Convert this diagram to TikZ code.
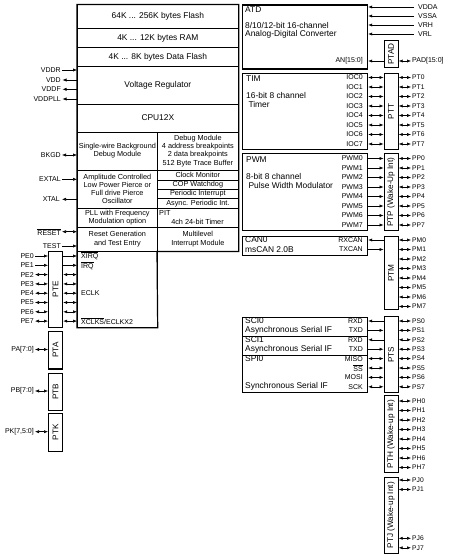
\documentclass[tikz,border=0pt]{standalone}
\usepackage{fontspec}
\setmainfont{Liberation Sans}
\usetikzlibrary{arrows.meta}
\newcommand\mainf{\fontsize{8.4}{9.3}\selectfont}
\newcommand\smallf{\fontsize{7.3}{8.2}\selectfont}
\newcommand\pinf{\fontsize{7}{8}\selectfont}
\newcommand\rpinf{\fontsize{6.7}{8}\selectfont}
\newcommand\portf{\fontsize{8.2}{9}\selectfont}
\newcommand\ovl[1]{$\overline{\mbox{#1}}$}
\newcommand\cellnode[7][]{%
  \pgfmathsetmacro\cw{#5-#3}\pgfmathsetmacro\ch{#6-#4}%
  \node[cell,minimum width=\cw pt,minimum height=\ch pt,anchor=north west,#1] (#2) at (#3,#4) {#7};}
\newcommand\boxnode[5]{%
  \pgfmathsetmacro\cw{#4-#2}\pgfmathsetmacro\ch{#5-#3}%
  \node[modbox,minimum width=\cw pt,minimum height=\ch pt,anchor=north west] (#1) at (#2,#3) {};}
\newcommand\portnode[6]{%
  \pgfmathsetmacro\cw{#4-#2}\pgfmathsetmacro\ch{#5-#3}%
  \node[modbox,minimum width=\cw pt,minimum height=\ch pt,anchor=north west] (#1) at (#2,#3) {};
  \node[rotate=90,font=\portf,inner sep=0pt] (#1t) at (#1.center) {#6};}
\begin{document}
\begin{tikzpicture}[x=1pt,y=-1pt,
  cell/.style={draw,line width=0.7pt,inner sep=0pt,align=center,font=\mainf},
  modbox/.style={draw,line width=1.2pt,inner sep=0pt},
  lbl/.style={inner sep=0pt,font=\pinf},
  rlbl/.style={inner sep=0pt,font=\rpinf},
  mtxt/.style={inner sep=0pt,font=\mainf,anchor=west},
  a/.style={line width=0.55pt,-{Latex[length=4pt,width=3.2pt]}},
  da/.style={line width=0.55pt,{Latex[length=4pt,width=3.2pt]}-{Latex[length=4pt,width=3.2pt]}}]
\useasboundingbox (0,0) rectangle (454,559);
% ---------------- main block ----------------
\cellnode{flash}{77}{4.5}{238}{28}{64K ... 256K bytes Flash}
\cellnode{ram}{77}{28}{238}{47}{4K ... 12K bytes RAM}
\cellnode{dflash}{77}{47}{238}{66}{4K ... 8K bytes Data Flash}
\cellnode{vreg}{77}{66}{238}{104}{Voltage Regulator}
\cellnode{cpu}{77}{104}{238}{131.5}{CPU12X}
\cellnode[font=\smallf]{bdm}{77}{131.5}{157}{169.5}{Single-wire Background\\Debug Module}
\cellnode[font=\smallf]{dbg}{157}{131.5}{238}{169.5}{Debug Module\\4 address breakpoints\\2 data breakpoints\\512 Byte Trace Buffer}
\cellnode[font=\smallf]{osc}{77}{169.5}{157}{207.5}{Amplitude Controlled\\Low Power Pierce or\\Full drive Pierce\\Oscillator}
\cellnode[font=\smallf]{clkmon}{157}{169.5}{238}{179.5}{Clock Monitor}
\cellnode[font=\smallf]{cop}{157}{179.5}{238}{189}{COP Watchdog}
\cellnode[font=\smallf]{pint}{157}{189}{238}{198.3}{Periodic Interrupt}
\cellnode[font=\smallf]{api}{157}{198.3}{238}{207.5}{Async. Periodic Int.}
\cellnode[font=\smallf]{pll}{77}{207.5}{157}{226.7}{PLL with Frequency\\Modulation option}
\cellnode{pit}{157}{207.5}{238}{226.7}{}
\node[inner sep=0pt,font=\smallf,anchor=west] (pitt) at (159,213) {PIT};
\node[inner sep=0pt,font=\smallf] (pitd) at (197.5,222.3) {4ch 24-bit Timer};
\cellnode[font=\smallf]{rst}{77}{226.7}{157}{250.7}{Reset Generation\\and Test Entry}
\cellnode[font=\smallf]{int}{157}{226.7}{238}{250.7}{Multilevel\\Interrupt Module}
\cellnode{lower}{77}{250.7}{157}{327}{}
\draw[line width=1.2pt] (flash.north west) -- (flash.north east) -- (int.south east) -- (int.south west) -- (lower.south east) -- (lower.south west) -- cycle;
% ---------------- modules on the right ----------------
\boxnode{atd}{242}{4.5}{367}{68.5}
\boxnode{tim}{242}{73}{367}{149}
\boxnode{pwm}{242}{153}{367}{230}
\boxnode{can}{242}{236}{367}{255}
\boxnode{sci0}{242}{316.5}{367}{336}
\boxnode{sci1}{242}{336}{367}{355}
\boxnode{spi}{242}{355}{367}{391.5}
\node[mtxt] (atdt) at (245,10) {ATD};
\node[mtxt] (atd1) at (245,25.5) {8/10/12-bit 16-channel};
\node[mtxt] (atd2) at (245,34.5) {Analog-Digital Converter};
\node[mtxt] (timt) at (246,79) {TIM};
\node[mtxt] (tim1) at (246,95) {16-bit 8 channel};
\node[mtxt] (tim2) at (246,104) {\ Timer};
\node[mtxt] (pwmt) at (246,160) {PWM};
\node[mtxt] (pwm1) at (246,176.5) {8-bit 8 channel};
\node[mtxt] (pwm2) at (246,185) {\ Pulse Width Modulator};
\node[mtxt] (cant) at (245,240) {CAN0};
\node[mtxt] (can1) at (245,249.3) {msCAN 2.0B};
\node[mtxt] (sci0t) at (245,321) {SCI0};
\node[mtxt] (sci01) at (245,330.5) {Asynchronous Serial IF};
\node[mtxt] (sci1t) at (245,340) {SCI1};
\node[mtxt] (sci11) at (245,349.3) {Asynchronous Serial IF};
\node[mtxt] (spit) at (245,359) {SPI0};
\node[mtxt] (spi1) at (245,386.5) {Synchronous Serial IF};
% ---------------- right ports ----------------
\portnode{ptad}{383.5}{40}{397.5}{67}{PTAD}
\portnode{ptt}{383.5}{73}{397.5}{149}{PTT}
\portnode{ptp}{383.5}{153}{397.5}{230}{PTP (Wake-Up Int)}
\portnode{ptm}{383.5}{236}{397.5}{309}{PTM}
\portnode{pts}{383.5}{316}{397.5}{392}{PTS}
\portnode{pth}{383.5}{395}{397.5}{472}{PTH (Wake-up Int)}
\portnode{ptj}{383.5}{476.5}{397.5}{553}{PTJ (Wake-up Int)}
% ATD pins
\node[lbl,anchor=west] (vdda) at (418,7) {VDDA};
\node[lbl,anchor=west] (vssa) at (418,16) {VSSA};
\node[lbl,anchor=west] (vrh) at (418,25) {VRH};
\node[lbl,anchor=west] (vrl) at (418,34) {VRL};
\foreach \n in {vdda,vssa,vrh,vrl}
  \draw[a] ([xshift=-4pt]\n.west) -- (atd.east |- \n);
\node[lbl,anchor=east] (an) at (363,61) {AN[15:0]};
\node[lbl,anchor=west] (pad) at (412,61) {PAD[15:0]};
\draw[a] (ptad.west |- an) -- (atd.east |- an);
\draw[da] (ptad.east |- pad) -- ([xshift=-1pt]pad.west);
% TIM / PTT
\foreach \i in {0,...,7}{
  \pgfmathsetmacro\yy{77.5+9.5*\i}
  \node[lbl,anchor=east] (ioc\i) at (363,\yy) {IOC\i};
  \node[rlbl,anchor=west] (pt\i) at (412,\yy) {PT\i};
  \draw[da] (tim.east |- ioc\i) -- (ptt.west |- ioc\i);
  \draw[da] (ptt.east |- pt\i) -- ([xshift=-1pt]pt\i.west);
}
% PWM / PTP
\foreach \i in {0,...,7}{
  \pgfmathsetmacro\yy{158.5+9.5*\i}
  \node[lbl,anchor=east] (pwm\i) at (363,\yy) {PWM\i};
  \node[rlbl,anchor=west] (pp\i) at (412,\yy) {PP\i};
  \draw[a] (pwm.east |- pwm\i) -- (ptp.west |- pwm\i);
  \draw[da] (ptp.east |- pp\i) -- ([xshift=-1pt]pp\i.west);
}
% CAN / PTM
\node[lbl,anchor=east] (rxcan) at (363,240) {RXCAN};
\node[lbl,anchor=east] (txcan) at (363,249.5) {TXCAN};
\draw[a] (ptm.west |- rxcan) -- (can.east |- rxcan);
\draw[a] (can.east |- txcan) -- (ptm.west |- txcan);
\foreach \i in {0,...,7}{
  \pgfmathsetmacro\yy{240+9.5*\i}
  \node[rlbl,anchor=west] (pm\i) at (412,\yy) {PM\i};
  \draw[da] (ptm.east |- pm\i) -- ([xshift=-1pt]pm\i.west);
}
% SCI / SPI / PTS
\foreach \i in {0,...,7}{
  \pgfmathsetmacro\yy{321+9.4*\i}
  \node[rlbl,anchor=west] (ps\i) at (412,\yy) {PS\i};
  \draw[da] (pts.east |- ps\i) -- ([xshift=-1pt]ps\i.west);
}
\node[lbl,anchor=east] (rxd0) at (363,321) {RXD};
\node[lbl,anchor=east] (txd0) at (363,330.4) {TXD};
\node[lbl,anchor=east] (rxd1) at (363,339.8) {RXD};
\node[lbl,anchor=east] (txd1) at (363,349.2) {TXD};
\node[lbl,anchor=east] (miso) at (363,358.6) {MISO};
\node[lbl,anchor=east] (ss) at (363,368) {\ovl{SS}};
\node[lbl,anchor=east] (mosi) at (363,377.4) {MOSI};
\node[lbl,anchor=east] (sck) at (363,386.8) {SCK};
\draw[a] (pts.west |- rxd0) -- (sci0.east |- rxd0);
\draw[a] (sci0.east |- txd0) -- (pts.west |- txd0);
\draw[a] (pts.west |- rxd1) -- (sci1.east |- rxd1);
\draw[a] (sci1.east |- txd1) -- (pts.west |- txd1);
\foreach \n in {miso,ss,mosi,sck}
  \draw[da] (spi.east |- \n) -- (pts.west |- \n);
% PTH
\foreach \i in {0,...,7}{
  \pgfmathsetmacro\yy{401+9.5*\i}
  \node[rlbl,anchor=west] (ph\i) at (412,\yy) {PH\i};
  \draw[da] (pth.east |- ph\i) -- ([xshift=-1pt]ph\i.west);
}
% PTJ
\foreach \i/\yy in {0/480,1/489.5,6/538.3,7/547.8}{
  \node[rlbl,anchor=west] (pj\i) at (412,\yy) {PJ\i};
  \draw[da] (ptj.east |- pj\i) -- ([xshift=-1pt]pj\i.west);
}
% ---------------- left pins ----------------
\node[lbl,anchor=east] (vddr) at (61,70) {VDDR};
\node[lbl,anchor=east] (vdd) at (61,80) {VDD};
\node[lbl,anchor=east] (vddf) at (61,89.3) {VDDF};
\node[lbl,anchor=east] (vddpll) at (61,99) {VDDPLL};
\draw[a] ([xshift=1pt]vddr.east) -- (vreg.west |- vddr);
\foreach \n in {vdd,vddf,vddpll}
  \draw[a] (vreg.west |- \n) -- ([xshift=1.5pt]\n.east);
\node[lbl,anchor=east] (bkgd) at (61,155) {BKGD};
\draw[da] ([xshift=1pt]bkgd.east) -- (bdm.west |- bkgd);
\node[lbl,anchor=east] (extal) at (61,179.3) {EXTAL};
\draw[a] ([xshift=1pt]extal.east) -- (osc.west |- extal);
\node[lbl,anchor=east] (xtal) at (60,199.3) {XTAL};
\draw[a] (osc.west |- xtal) -- ([xshift=2pt]xtal.east);
\node[lbl,anchor=east] (reset) at (61,231.7) {\ovl{RESET}};
\draw[da] ([xshift=1pt]reset.east) -- (rst.west |- reset);
\node[lbl,anchor=east] (test) at (61,246) {TEST};
\draw[a] ([xshift=1pt]test.east) -- (rst.west |- test);
% PTE
\portnode{pte}{48}{250.7}{62}{326.7}{PTE}
\foreach \i in {0,...,7}{
  \pgfmathsetmacro\yy{256+9.3*\i}
  \node[lbl,anchor=east] (pe\i) at (34,\yy) {PE\i};
}
\draw[a] ([xshift=1pt]pe0.east) -- (pte.west |- pe0);
\draw[a] ([xshift=1pt]pe1.east) -- (pte.west |- pe1);
\draw[a] (pte.east |- pe0) -- (lower.west |- pe0);
\draw[a] (pte.east |- pe1) -- (lower.west |- pe1);
\foreach \i in {2,...,7}{
  \draw[da] ([xshift=1pt]pe\i.east) -- (pte.west |- pe\i);
  \draw[da] (pte.east |- pe\i) -- (lower.west |- pe\i);
}
\node[lbl,anchor=west] (xirq) at (81,256) {\ovl{XIRQ}};
\node[lbl,anchor=west] (irq) at (81,265.3) {\ovl{IRQ}};
\node[lbl,anchor=west] (eclk) at (81,293.2) {ECLK};
\node[lbl,anchor=west] (xclks) at (81,321.1) {\ovl{XCLKS}/ECLKX2};
% PTA, PTB, PTK
\portnode{pta}{48}{330.7}{62}{368.3}{PTA}
\portnode{ptb}{48}{372.7}{62}{410}{PTB}
\portnode{ptk}{48}{412.7}{62}{451}{PTK}
\node[lbl,anchor=east] (pa) at (34,349.5) {PA[7:0]};
\node[lbl,anchor=east] (pb) at (34,391) {PB[7:0]};
\node[lbl,anchor=east] (pk) at (34,431.7) {PK[7,5:0]};
\foreach \n/\p in {pa/pta,pb/ptb,pk/ptk}
  \draw[da] ([xshift=1pt]\n.east) -- (\p.west |- \n);
\end{tikzpicture}
\end{document}
